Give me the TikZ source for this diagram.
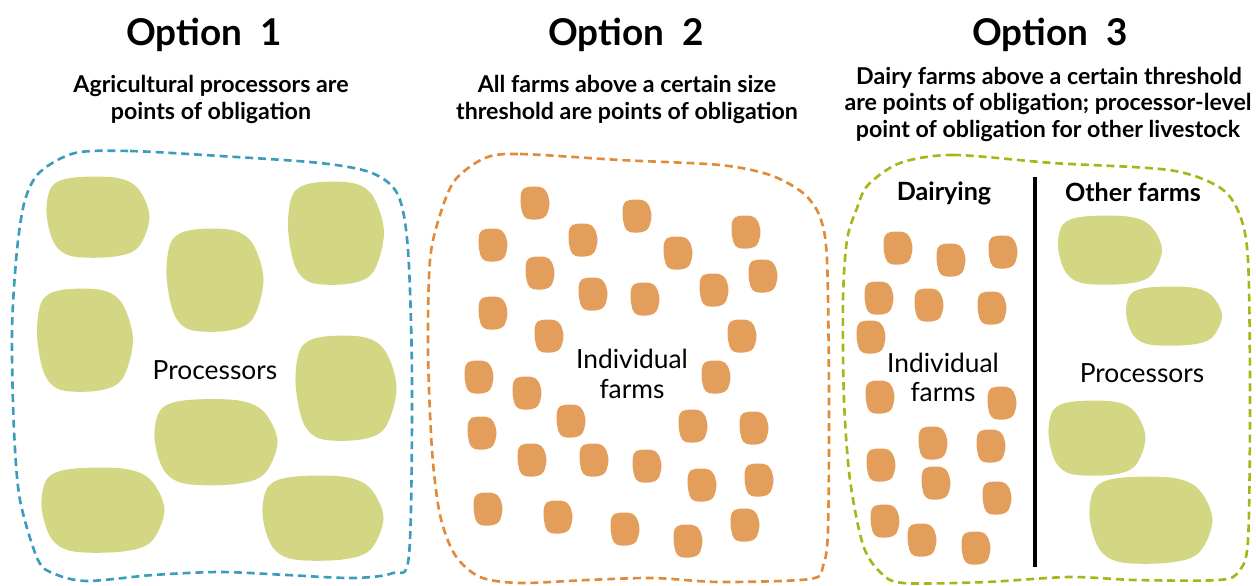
\documentclass[tikz,border=0pt]{standalone}
\usepackage{fontspec}
\setmainfont{Lato}
\definecolor{blueline}{HTML}{3C9CBB}
\definecolor{orangeline}{HTML}{E08A3A}
\definecolor{greenline}{HTML}{A9B419}
\definecolor{greenfill}{HTML}{D3D784}
\definecolor{orangefill}{HTML}{E49E5C}
\newcommand\myblob[5]{\fill[#1, shift={(#2,#3)}, xscale=#4, yscale=#5]
  plot[smooth cycle, tension=0.55] coordinates {(-0.9,-0.75) (-0.5,-0.97) (0.35,-0.97) (0.78,-0.7) (1,0) (0.78,0.75) (0.3,0.98) (-0.5,0.97) (-0.85,0.65) (-1,-0.1)};}
\newcommand\farm[2]{\myblob{farmfill}{#1}{#2}{14.5}{16.5}}
\begin{document}
\begin{tikzpicture}[x=0.02cm, y=-0.02cm,
  title/.style={font=\bfseries\fontsize{21}{25}\selectfont, anchor=base, inner sep=0pt},
  sub/.style={font=\bfseries\fontsize{13.2}{15}\selectfont, anchor=base, inner sep=0pt},
  lbl/.style={font=\fontsize{15}{18}\selectfont, anchor=base, inner sep=0pt},
  hdr/.style={font=\bfseries\fontsize{14.3}{16}\selectfont, anchor=base, inner sep=0pt},
  border/.style={line width=1.5pt, dash pattern=on 4.5pt off 2.8pt},
  procfill/.style={fill=greenfill},
  farmfill/.style={fill=orangefill}]
\useasboundingbox (0,0) rectangle (1256,585);
% titles
\node[title] (t1) at (204,45) {Option\ \ 1};
\node[title] (t2) at (626,45) {Option\ \ 2};
\node[title] (t3) at (1050,45) {Option\ \ 3};
% subtitles
\node[sub] (s1a) at (211,92) {Agricultural processors are};
\node[sub] (s1b) at (211,119) {points of obligation};
\node[sub] (s2a) at (627,92) {All farms above a certain size};
\node[sub] (s2b) at (627,119) {threshold are points of obligation};
\node[sub] (s3a) at (1049,84) {Dairy farms above a certain threshold};
\node[sub] (s3b) at (1048,110.5) {are points of obligation; processor-level};
\node[sub] (s3c) at (1048,137) {point of obligation for other livestock};
% borders
\draw[border, blueline] plot[smooth cycle, tension=0.5] coordinates {(75,153) (130,151) (220,156) (320,163) (372,173) (398,195) (408,250) (412,383) (409,555) (393,573) (353,578) (287,575) (220,572) (153,575) (87,581) (55,574) (38,560) (20,500) (14,430) (12,330) (17,250) (25,200) (40,172)};
\draw[border, orangeline] plot[smooth cycle, tension=0.5] coordinates {(485,158) (520,154) (620,160) (720,165) (770,175) (803,193) (820,217) (827,260) (829,400) (828,530) (823,566) (810,579) (720,582) (653,578) (587,580) (520,583) (480,577) (455,555) (440,515) (432,450) (428,350) (430,260) (440,215) (455,180)};
\draw[border, greenline] plot[smooth cycle, tension=0.5] coordinates {(900,163) (953,155) (1053,163) (1169,170) (1219,187) (1239,213) (1248,260) (1250,400) (1248,540) (1239,571) (1219,580) (1136,580) (1069,577) (986,582) (903,583) (880,572) (863,545) (850,480) (844,400) (843,300) (847,240) (857,208) (868,185)};
% option 1 processors
\myblob{procfill}{98}{217}{51.5}{40.5}
\myblob{procfill}{215}{280}{48.5}{51.5}
\myblob{procfill}{336}{233}{48}{51.5}
\myblob{procfill}{85}{340}{48}{51.5}
\myblob{procfill}{346}{388}{50.5}{52.5}
\myblob{procfill}{216}{442}{61.5}{43}
\myblob{procfill}{103}{510}{61.5}{42.5}
\myblob{procfill}{323}{518}{60.5}{42.5}
\node[lbl] (p1) at (215,379) {Processors};
% option 2 farms
\farm{535}{203}\farm{637}{216}\farm{746}{232}\farm{493}{245}\farm{583}{240}
\farm{678}{253}\farm{540}{273}\farm{763}{276}\farm{593}{294}\farm{645}{299}
\farm{714}{290}\farm{493}{313}\farm{549}{336}\farm{742}{336}\farm{479}{377}
\farm{527}{393}\farm{716}{377}\farm{571}{421}\farm{482}{433}\farm{693}{426}
\farm{754}{428}\farm{532}{460}\farm{594}{460}\farm{647}{466}\farm{702}{485}
\farm{759}{480}\farm{488}{509}\farm{558}{517}\farm{625}{529}\farm{688}{541}
\farm{745}{525}
\node[lbl] (f2a) at (632,368) {Individual};
\node[lbl] (f2b) at (632,398) {farms};
% option 3
\draw[line width=1.8pt] (1035,177) coordinate (va) -- (1035,567) coordinate (vb);
\node[hdr] (h3a) at (944,200) {Dairying};
\node[hdr] (h3b) at (1133,201) {Other farms};
\farm{898}{248}\farm{951}{260}\farm{1003}{252}\farm{879}{298}\farm{929}{305}
\farm{992}{308}\farm{871}{337}\farm{880}{397}\farm{1002}{403}\farm{933}{443}
\farm{991}{446}\farm{881}{465}\farm{936}{483}\farm{997}{498}\farm{885}{521}
\farm{922}{540}\farm{976}{548}
\node[lbl] (f3a) at (943,372) {Individual};
\node[lbl] (f3b) at (943,401) {farms};
\myblob{procfill}{1110}{250}{52}{34.5}
\myblob{procfill}{1174}{316}{48}{29.5}
\myblob{procfill}{1097}{438}{48.5}{37.5}
\myblob{procfill}{1151}{520}{61.5}{43.5}
\node[lbl] (p3) at (1142,382) {Processors};
\end{tikzpicture}
\end{document}
